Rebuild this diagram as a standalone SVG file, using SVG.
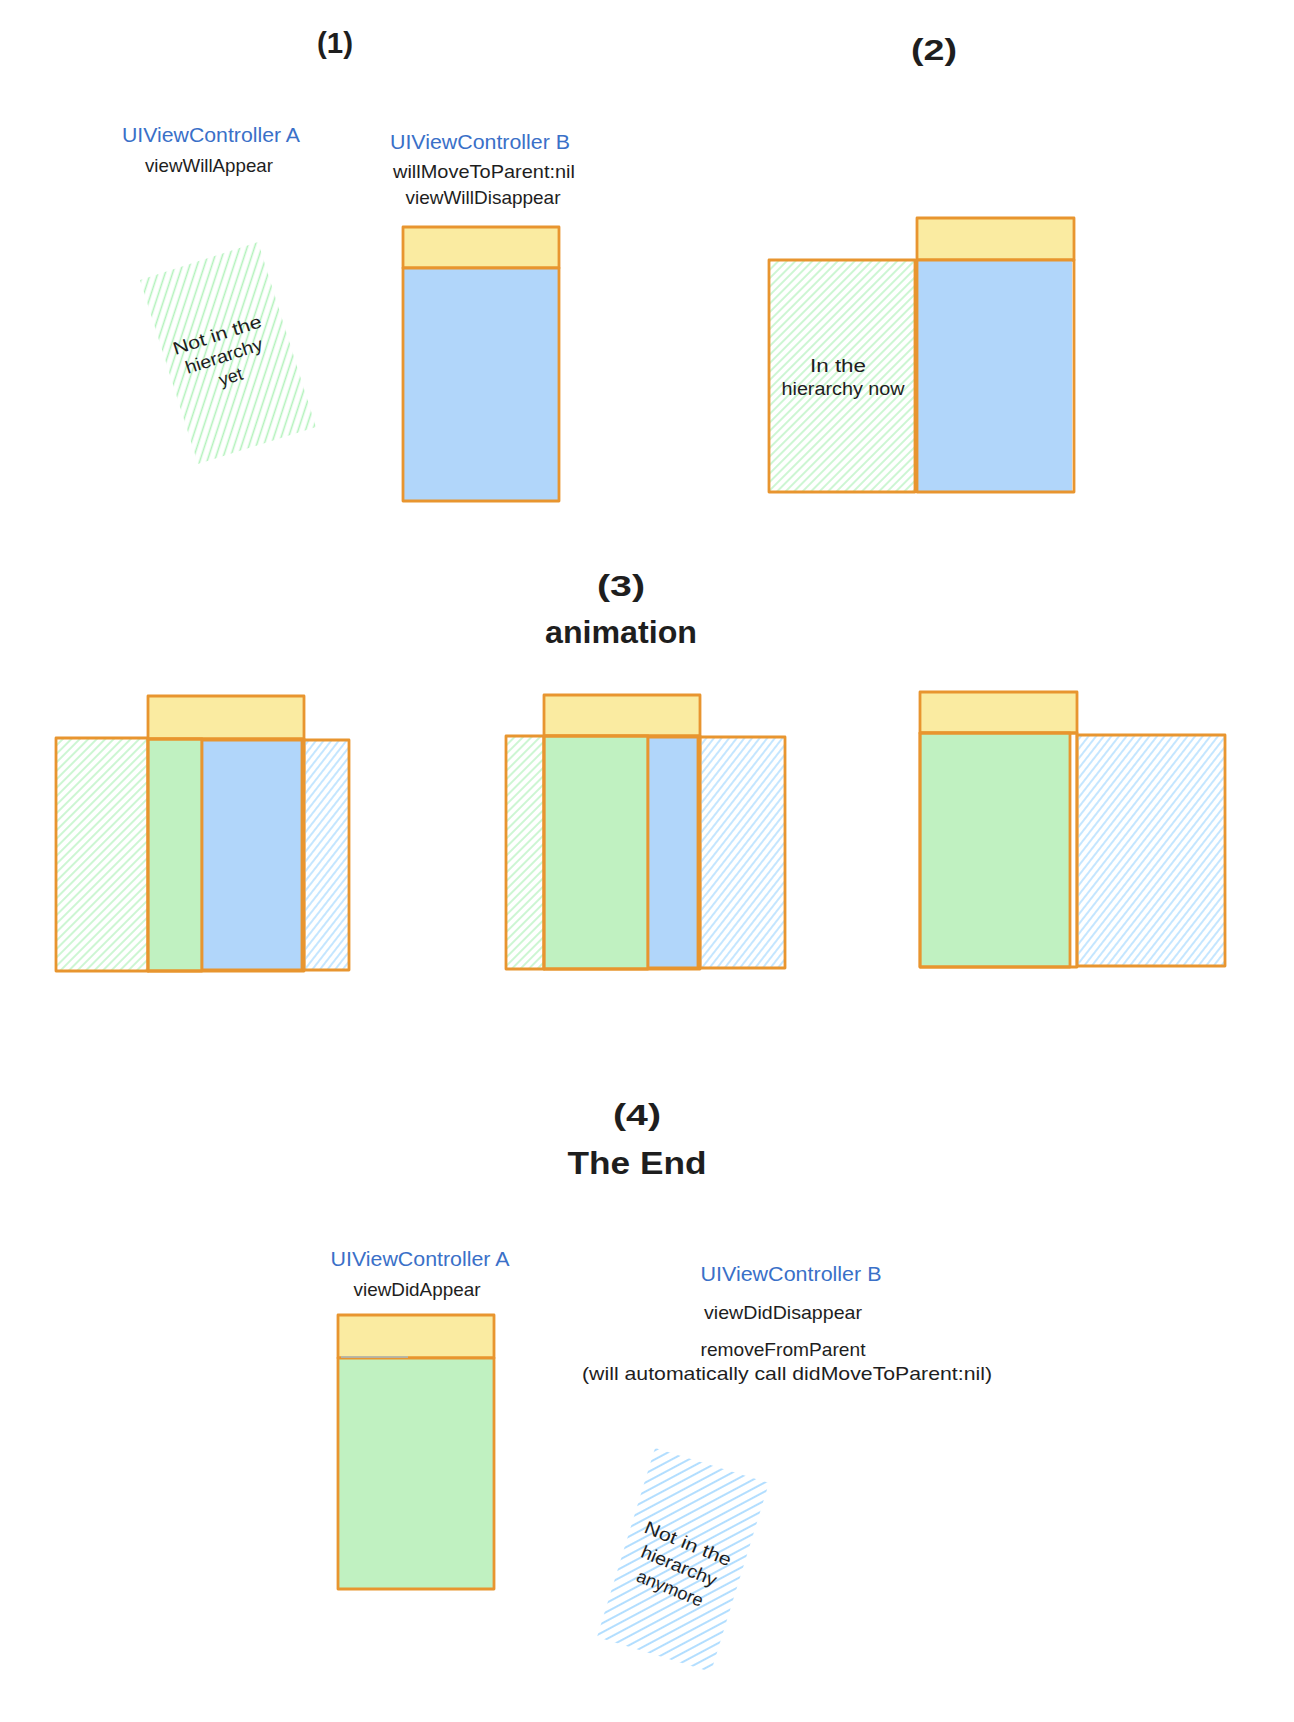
<svg xmlns="http://www.w3.org/2000/svg" width="1294" height="1722" viewBox="0 0 1294 1722">
<style>
  text { font-family: "Liberation Sans", Arial, sans-serif; fill: #1e1e1e; text-anchor: middle; }
  .title { font-size: 29px; font-weight: bold; }
  .big { font-size: 31px; font-weight: bold; }
  .vc { font-size: 20px; fill: #3a70c8; }
  .m { font-size: 19px; }
  .note { font-size: 18px; }
  .box { stroke: #e8952f; stroke-width: 2.8; stroke-linejoin: round; }
  .hdr { fill: #faeba1; }
  .bl { fill: #b1d6fa; }
  .gr { fill: #c0f1c1; }
  .hg { fill: url(#hatchG45); }
  .hb { fill: url(#hatchB50); }
  .none { fill: none; }
</style>
<defs>
  <pattern id="hatchG45" width="6" height="6" patternUnits="userSpaceOnUse" patternTransform="rotate(45)">
    <line x1="3" y1="0" x2="3" y2="6" stroke="#b2f2bb" stroke-width="1.3"/>
  </pattern>
  <pattern id="hatchB50" width="6" height="6" patternUnits="userSpaceOnUse" patternTransform="rotate(38)">
    <line x1="3" y1="0" x2="3" y2="6" stroke="#a5d8ff" stroke-width="1.3"/>
  </pattern>
  <pattern id="hatchGrot" width="7" height="7" patternUnits="userSpaceOnUse" patternTransform="rotate(18)">
    <line x1="3.5" y1="0" x2="3.5" y2="7" stroke="#b2f2bb" stroke-width="1.6"/>
  </pattern>
  <pattern id="hatchBrot" width="8" height="8" patternUnits="userSpaceOnUse" patternTransform="rotate(62)">
    <line x1="4" y1="0" x2="4" y2="8" stroke="#a5d8ff" stroke-width="1.7"/>
  </pattern>
</defs>
<rect x="0" y="0" width="1294" height="1722" fill="#ffffff"/>

<!-- Step 1 -->
<g id="step1-title"><text class="title" x="335" y="53" textLength="36" lengthAdjust="spacingAndGlyphs">(1)</text></g>
<g id="step1-vcA-label">
  <text class="vc" x="211" y="142" textLength="178" lengthAdjust="spacingAndGlyphs">UIViewController A</text>
  <text class="m" x="209" y="172" textLength="128" lengthAdjust="spacingAndGlyphs">viewWillAppear</text>
</g>
<g id="step1-vcB-label">
  <text class="vc" x="480" y="149" textLength="180" lengthAdjust="spacingAndGlyphs">UIViewController B</text>
  <text class="m" x="484" y="178" textLength="182" lengthAdjust="spacingAndGlyphs">willMoveToParent:nil</text>
  <text class="m" x="483" y="204" textLength="155" lengthAdjust="spacingAndGlyphs">viewWillDisappear</text>
</g>
<g id="step1-vcA-offscreen">
  <polygon points="140,280 258,242 316,427 198,464" fill="url(#hatchGrot)"/>
  <g transform="translate(224,356) rotate(-18)">
    <text class="note" x="0" y="-16" textLength="92" lengthAdjust="spacingAndGlyphs">Not in the</text>
    <text class="note" x="0" y="6" textLength="80" lengthAdjust="spacingAndGlyphs">hierarchy</text>
    <text class="note" x="0" y="28">yet</text>
  </g>
</g>
<g id="step1-vcB-box">
  <rect class="box hdr" x="403" y="227" width="156" height="41"/>
  <rect class="box bl" x="403" y="268" width="156" height="233"/>
</g>

<!-- Step 2 -->
<g id="step2-title"><text class="title" x="934" y="60" textLength="46" lengthAdjust="spacingAndGlyphs">(2)</text></g>
<g id="step2-vcA">
  <rect class="box hg" x="769" y="260" width="146" height="232"/>
  <text class="note" x="838" y="372" textLength="56" lengthAdjust="spacingAndGlyphs">In the</text>
  <text class="note" x="843" y="395" textLength="123" lengthAdjust="spacingAndGlyphs">hierarchy now</text>
</g>
<g id="step2-vcB">
  <rect class="box hdr" x="917" y="218" width="157" height="42"/>
  <rect class="bl" x="917" y="260" width="155" height="232"/>
  <rect class="box none" x="917" y="260" width="157" height="232"/>
</g>

<!-- Step 3 -->
<g id="step3-title">
  <text class="title" x="621" y="596" textLength="48" lengthAdjust="spacingAndGlyphs">(3)</text>
  <text class="big" x="621" y="643" textLength="152" lengthAdjust="spacingAndGlyphs">animation</text>
</g>
<g id="step3-frame1">
  <rect class="box hg" x="56" y="738" width="92" height="233"/>
  <rect class="box hdr" x="148" y="696" width="156" height="43"/>
  <rect class="box gr" x="148" y="739" width="54" height="232"/>
  <rect class="box bl" x="202" y="740" width="100" height="230"/>
  <rect class="box none" x="148" y="739" width="156" height="232"/>
  <rect class="box hb" x="304" y="740" width="45" height="230"/>
</g>
<g id="step3-frame2">
  <rect class="box hg" x="506" y="736" width="38" height="233"/>
  <rect class="box hdr" x="544" y="695" width="156" height="41"/>
  <rect class="box gr" x="544" y="736" width="104" height="233"/>
  <rect class="box bl" x="648" y="737" width="50" height="231"/>
  <rect class="box none" x="544" y="736" width="156" height="233"/>
  <rect class="box hb" x="700" y="737" width="85" height="231"/>
</g>
<g id="step3-frame3">
  <rect class="box hdr" x="920" y="692" width="157" height="41"/>
  <rect class="box gr" x="920" y="733" width="150" height="234"/>
  <rect class="box none" x="920" y="733" width="157" height="234"/>
  <rect class="box hb" x="1077" y="735" width="148" height="231"/>
</g>

<!-- Step 4 -->
<g id="step4-title">
  <text class="title" x="637" y="1125" textLength="48" lengthAdjust="spacingAndGlyphs">(4)</text>
  <text class="big" x="637" y="1174" textLength="139" lengthAdjust="spacingAndGlyphs">The End</text>
</g>
<g id="step4-vcA-label">
  <text class="vc" x="420" y="1266" textLength="179" lengthAdjust="spacingAndGlyphs">UIViewController A</text>
  <text class="m" x="417" y="1296" textLength="127" lengthAdjust="spacingAndGlyphs">viewDidAppear</text>
</g>
<g id="step4-vcA-box">
  <rect class="box hdr" x="338" y="1315" width="156" height="43"/>
  <rect class="box gr" x="338" y="1358" width="156" height="231"/>
  <line x1="341" y1="1357" x2="408" y2="1357" stroke="#a9bcc4" stroke-width="1.5"/>
</g>
<g id="step4-vcB-label">
  <text class="vc" x="791" y="1281" textLength="181" lengthAdjust="spacingAndGlyphs">UIViewController B</text>
  <text class="m" x="783" y="1319" textLength="158" lengthAdjust="spacingAndGlyphs">viewDidDisappear</text>
  <text class="m" x="783" y="1356" textLength="165" lengthAdjust="spacingAndGlyphs">removeFromParent</text>
  <text class="m" x="787" y="1380" textLength="410" lengthAdjust="spacingAndGlyphs">(will automatically call didMoveToParent:nil)</text>
</g>
<g id="step4-vcB-removed">
  <polygon points="655,1448 769,1483 711,1672 597,1637" fill="url(#hatchBrot)"/>
  <g transform="translate(679,1566) rotate(22)">
    <text class="note" x="0" y="-18" textLength="92" lengthAdjust="spacingAndGlyphs">Not in the</text>
    <text class="note" x="0" y="6" textLength="80" lengthAdjust="spacingAndGlyphs">hierarchy</text>
    <text class="note" x="0" y="30" textLength="70" lengthAdjust="spacingAndGlyphs">anymore</text>
  </g>
</g>

<g id="connectors"></g>
</svg>
